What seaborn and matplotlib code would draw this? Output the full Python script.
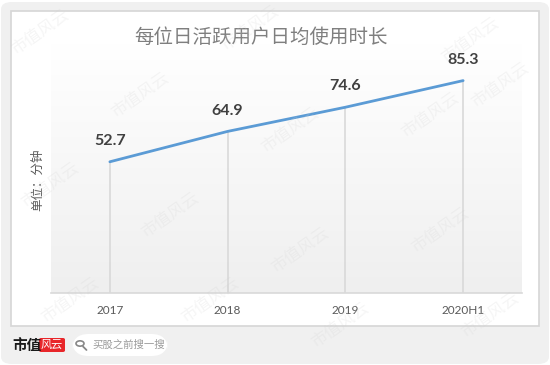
import numpy as np
import pandas as pd
import matplotlib
matplotlib.use("Agg")
import matplotlib.pyplot as plt
from matplotlib.patches import FancyBboxPatch, Rectangle, Circle
from matplotlib.lines import Line2D
from matplotlib.colors import LinearSegmentedColormap
import seaborn as sns

# ---- data ----
categories = ["2017", "2018", "2019", "2020H1"]
values = [52.7, 64.9, 74.6, 85.3]
title_text = "每位日活跃用户日均使用时长"
ylabel_text = "单位：分钟"

sns.set_theme(style="white")
plt.rcParams['font.family'] = ['Noto Sans CJK SC', 'DejaVu Sans']

W, H = 550, 365
fig = plt.figure(figsize=(W / 100, H / 100), dpi=100)
fig.patch.set_facecolor("white")

def fx(px):
    return px / W

def fy(py):
    return 1 - py / H

# outer gray rounded background
bg = FancyBboxPatch((fx(1), fy(364)), fx(548), 362 / H,
                    boxstyle="round,pad=0,rounding_size=0.02",
                    transform=fig.transFigure, facecolor="#f0f0f0",
                    edgecolor="none", zorder=0)
fig.patches.append(bg)
# white card
card = Rectangle((fx(11), fy(326)), fx(528), 315 / H, transform=fig.transFigure,
                 facecolor="white", edgecolor="#d6d6d6", linewidth=1.2, zorder=1)
fig.patches.append(card)

# axes
ax_left, ax_right, ax_top, ax_bot = 51, 522, 44, 293
ax = fig.add_axes([fx(ax_left), fy(ax_bot), fx(ax_right - ax_left), (ax_bot - ax_top) / H])
ax.set_zorder(2)
ax.patch.set_alpha(0)

# gradient background in plot area
grad = np.linspace(1.0, 0.0, 256).reshape(-1, 1)
cmap = LinearSegmentedColormap.from_list("g", ["#efefef", "#ffffff"])
ax.imshow(grad, extent=[0, 1, 0, 1], transform=ax.transAxes, cmap=cmap,
          aspect="auto", zorder=0, origin="upper")

df = pd.DataFrame({"period": categories, "minutes": values})
xpos = np.arange(len(categories))

# drop lines
ax.vlines(xpos, 0, df["minutes"], colors="#d9d9d9", linewidth=1.2, zorder=1)

sns.lineplot(data=df, x="period", y="minutes", ax=ax, color="#5b9bd5",
             linewidth=2.0, zorder=3, sort=False)

ax.set_xlim(-0.5, len(categories) - 0.5)
ax.set_ylim(0, 100)

for i, v in enumerate(values):
    ax.annotate(f"{v}", (i, v), xytext=(0, 10), textcoords="offset points",
                ha="center", va="bottom", fontsize=11.5, fontweight="bold",
                color="#404040", family=["Lato", "DejaVu Sans"], zorder=4)

for s in ["top", "left", "right"]:
    ax.spines[s].set_visible(False)
ax.spines["bottom"].set_color("#d9d9d9")
ax.spines["bottom"].set_linewidth(1.2)
ax.set_yticks([])
ax.set_xticks(xpos)
ax.set_xticklabels(categories, family=["Lato", "DejaVu Sans"], fontsize=8.5, color="#595959")
ax.tick_params(axis="x", length=0, pad=9)
ax.set_xlabel("")
ax.set_ylabel("")

# title and y label
fig.text(fx(261), fy(37), title_text, ha="center", va="center", fontsize=14,
         color="#7f7f7f", zorder=5)
fig.text(fx(38), fy(180), ylabel_text, ha="center", va="center", fontsize=9,
         rotation=90, color="#595959", zorder=5)

# footer
fig.text(fx(12), fy(345), "市值", ha="left", va="center", fontsize=10.5,
         fontweight="bold", color="#1a1a1a", zorder=5)
logo = FancyBboxPatch((fx(39), fy(352)), fx(26), 14 / H,
                      boxstyle="round,pad=0,rounding_size=0.004",
                      transform=fig.transFigure, facecolor="#e8262a",
                      edgecolor="none", zorder=5)
fig.patches.append(logo)
fig.text(fx(52), fy(345), "风云", ha="center", va="center", fontsize=8,
         color="white", style="italic", zorder=6)
pill = FancyBboxPatch((fx(72), fy(356)), fx(96), 22 / H,
                      boxstyle="round,pad=0,rounding_size=0.03",
                      transform=fig.transFigure, facecolor="white",
                      edgecolor="none", zorder=5, mutation_aspect=W / H)
fig.patches.append(pill)
circ = Circle((fx(80), fy(343.5)), fx(4), transform=fig.transFigure,
              facecolor="none", edgecolor="#888888", linewidth=1.2, zorder=6)
fig.patches.append(circ)
fig.lines.append(Line2D([fx(83), fx(86.5)], [fy(346.5), fy(350)],
                        transform=fig.transFigure, color="#888888",
                        linewidth=1.3, zorder=6))
fig.text(fx(92), fy(345), "买股之前搜一搜", ha="left", va="center", fontsize=7.5,
         color="#9a9a9a", zorder=6)

# watermarks
wm_pts = [(40, 32), (250, 28), (470, 40), (140, 95), (430, 115), (50, 185),
          (290, 130), (170, 215), (440, 230), (300, 250), (70, 300),
          (210, 300), (490, 315), (340, 325), (500, 85)]
for (x, y) in wm_pts:
    fig.text(fx(x), fy(y), "市值风云", ha="center", va="center", fontsize=12,
             rotation=35, color="#d0d0d0", alpha=0.2, fontweight="light",
             zorder=7)

fig.savefig("out.png", dpi=100)
